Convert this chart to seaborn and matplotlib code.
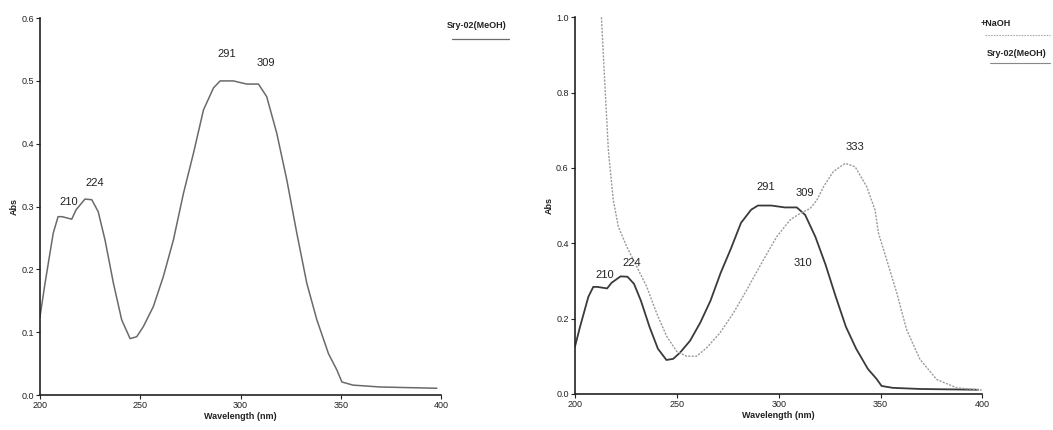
import matplotlib
matplotlib.use("Agg")
import matplotlib.pyplot as plt
import pandas as pd
import seaborn as sns
from matplotlib.lines import Line2D

# Sry-02 in MeOH
wl_meoh = [200, 202.5, 206.6, 209, 211, 215.8, 218, 222.4, 225.8, 229, 232.4, 236.6,
           240.7, 244.9, 248.2, 251.5, 256.5, 261.5, 266.5, 271.5, 276.5, 281.5, 286.5,
           289.8, 296.4, 303, 308.9, 313, 318, 323, 328, 333, 338, 343.8, 348, 350.5,
           356, 369.6, 397.8]
abs_meoh = [0.125, 0.178, 0.258, 0.284, 0.284, 0.28, 0.295, 0.312, 0.311, 0.292, 0.247, 0.178,
            0.12, 0.09, 0.093, 0.109, 0.141, 0.189, 0.247, 0.321, 0.385, 0.454, 0.489,
            0.5, 0.5, 0.495, 0.495, 0.475, 0.417, 0.343, 0.258, 0.178, 0.12, 0.066, 0.04, 0.021,
            0.016, 0.013, 0.011]

# + NaOH shift reagent (right panel, dotted)
wl_naoh = [213, 214.7, 216.4, 218.8, 221.3, 225.4, 230.3, 235.2, 240.1, 245, 249.9, 254.8,
           259.7, 264.6, 271.2, 277.7, 284.3, 292.5, 299, 305.6, 310.5, 315.4, 318.7, 322,
           326.8, 332.6, 337.5, 343.2, 347.3, 349, 353, 358, 362.8, 369.4, 377.6, 387.4, 399.7]
abs_naoh = [1.0, 0.82, 0.647, 0.515, 0.444, 0.391, 0.338, 0.285, 0.214, 0.153, 0.113, 0.1,
            0.1, 0.122, 0.162, 0.214, 0.276, 0.356, 0.417, 0.462, 0.479, 0.492, 0.514, 0.55,
            0.59, 0.612, 0.603, 0.55, 0.488, 0.426, 0.356, 0.267, 0.17, 0.091, 0.038, 0.016, 0.01]

# peak annotations: (text, x, y)
peaks_left = [("210", 214.5, 0.307), ("224", 227.4, 0.337), ("291", 293, 0.543), ("309", 312.5, 0.528)]
peaks_right = [("210", 214.7, 0.316), ("224", 227.8, 0.347), ("291", 293.8, 0.55),
               ("309", 312.9, 0.534), ("310", 311.8, 0.347), ("333", 337.5, 0.656)]

x_ticks = [200, 250, 300, 350, 400]
left_yticks = [0.0, 0.1, 0.2, 0.3, 0.4, 0.5, 0.6]
right_yticks = [0.0, 0.2, 0.4, 0.6, 0.8, 1.0]

sns.set_theme(style="white")
plt.rcParams['font.family'] = ['Liberation Sans', 'DejaVu Sans']

meoh = pd.DataFrame({"wl": wl_meoh, "abs": abs_meoh})
naoh = pd.DataFrame({"wl": wl_naoh, "abs": abs_naoh})

fig = plt.figure(figsize=(10.53, 4.30), dpi=100)
ax1 = fig.add_axes([0.038, 0.081, 0.381, 0.877])
ax2 = fig.add_axes([0.546, 0.084, 0.387, 0.876])

sns.lineplot(data=meoh, x="wl", y="abs", ax=ax1, color="#6a6a6a", lw=1.1)
sns.lineplot(data=meoh, x="wl", y="abs", ax=ax2, color="#3a3a3a", lw=1.3)
sns.lineplot(data=naoh, x="wl", y="abs", ax=ax2, color="#9a9a9a", lw=1.0, linestyle=(0, (1.5, 1)))

for ax, yt in ((ax1, left_yticks), (ax2, right_yticks)):
    ax.set_xlim(200, 400)
    ax.set_ylim(yt[0], yt[-1])
    ax.set_xticks(x_ticks)
    ax.set_yticks(yt)
    ax.set_yticklabels([f"{v:.1f}" for v in yt])
    ax.tick_params(axis="both", direction="out", length=3, width=0.8, labelsize=6.5,
                   colors="#222222", pad=1.5, left=True, bottom=True)
    ax.set_xlabel("Wavelength (nm)", fontsize=6.5, fontweight="bold", color="#222222", labelpad=1)
    ax.set_ylabel("Abs", fontsize=6.5, fontweight="bold", color="#222222", labelpad=2)
    for s in ("left", "bottom"):
        ax.spines[s].set_color("#222222")
        ax.spines[s].set_linewidth(1.2)
    sns.despine(ax=ax)

for txt, x, y in peaks_left:
    ax1.text(x, y, txt, fontsize=8, ha="center", va="center", color="#222222")
for txt, x, y in peaks_right:
    ax2.text(x, y, txt, fontsize=8, ha="center", va="center", color="#222222")

# legends drawn as in the instrument printout: label above a short sample line
fig.text(477 / 1053, 1 - 25 / 430, "Sry-02(MeOH)", fontsize=6.5, fontweight="bold",
         ha="center", va="center", color="#222222")
fig.add_artist(Line2D([452 / 1053, 509 / 1053], [1 - 39 / 430] * 2, color="#6a6a6a", lw=0.9))
fig.text(996 / 1053, 1 - 23 / 430, "+NaOH", fontsize=6.5, fontweight="bold",
         ha="center", va="center", color="#222222")
fig.add_artist(Line2D([985 / 1053, 1050 / 1053], [1 - 35 / 430] * 2, color="#aaaaaa", lw=0.8,
                      linestyle=(0, (1.5, 1))))
fig.text(1017 / 1053, 1 - 53 / 430, "Sry-02(MeOH)", fontsize=6.5, fontweight="bold",
         ha="center", va="center", color="#222222")
fig.add_artist(Line2D([990 / 1053, 1050 / 1053], [1 - 63 / 430] * 2, color="#888888", lw=0.8))

plt.savefig("out.png", dpi=100, facecolor="white")
